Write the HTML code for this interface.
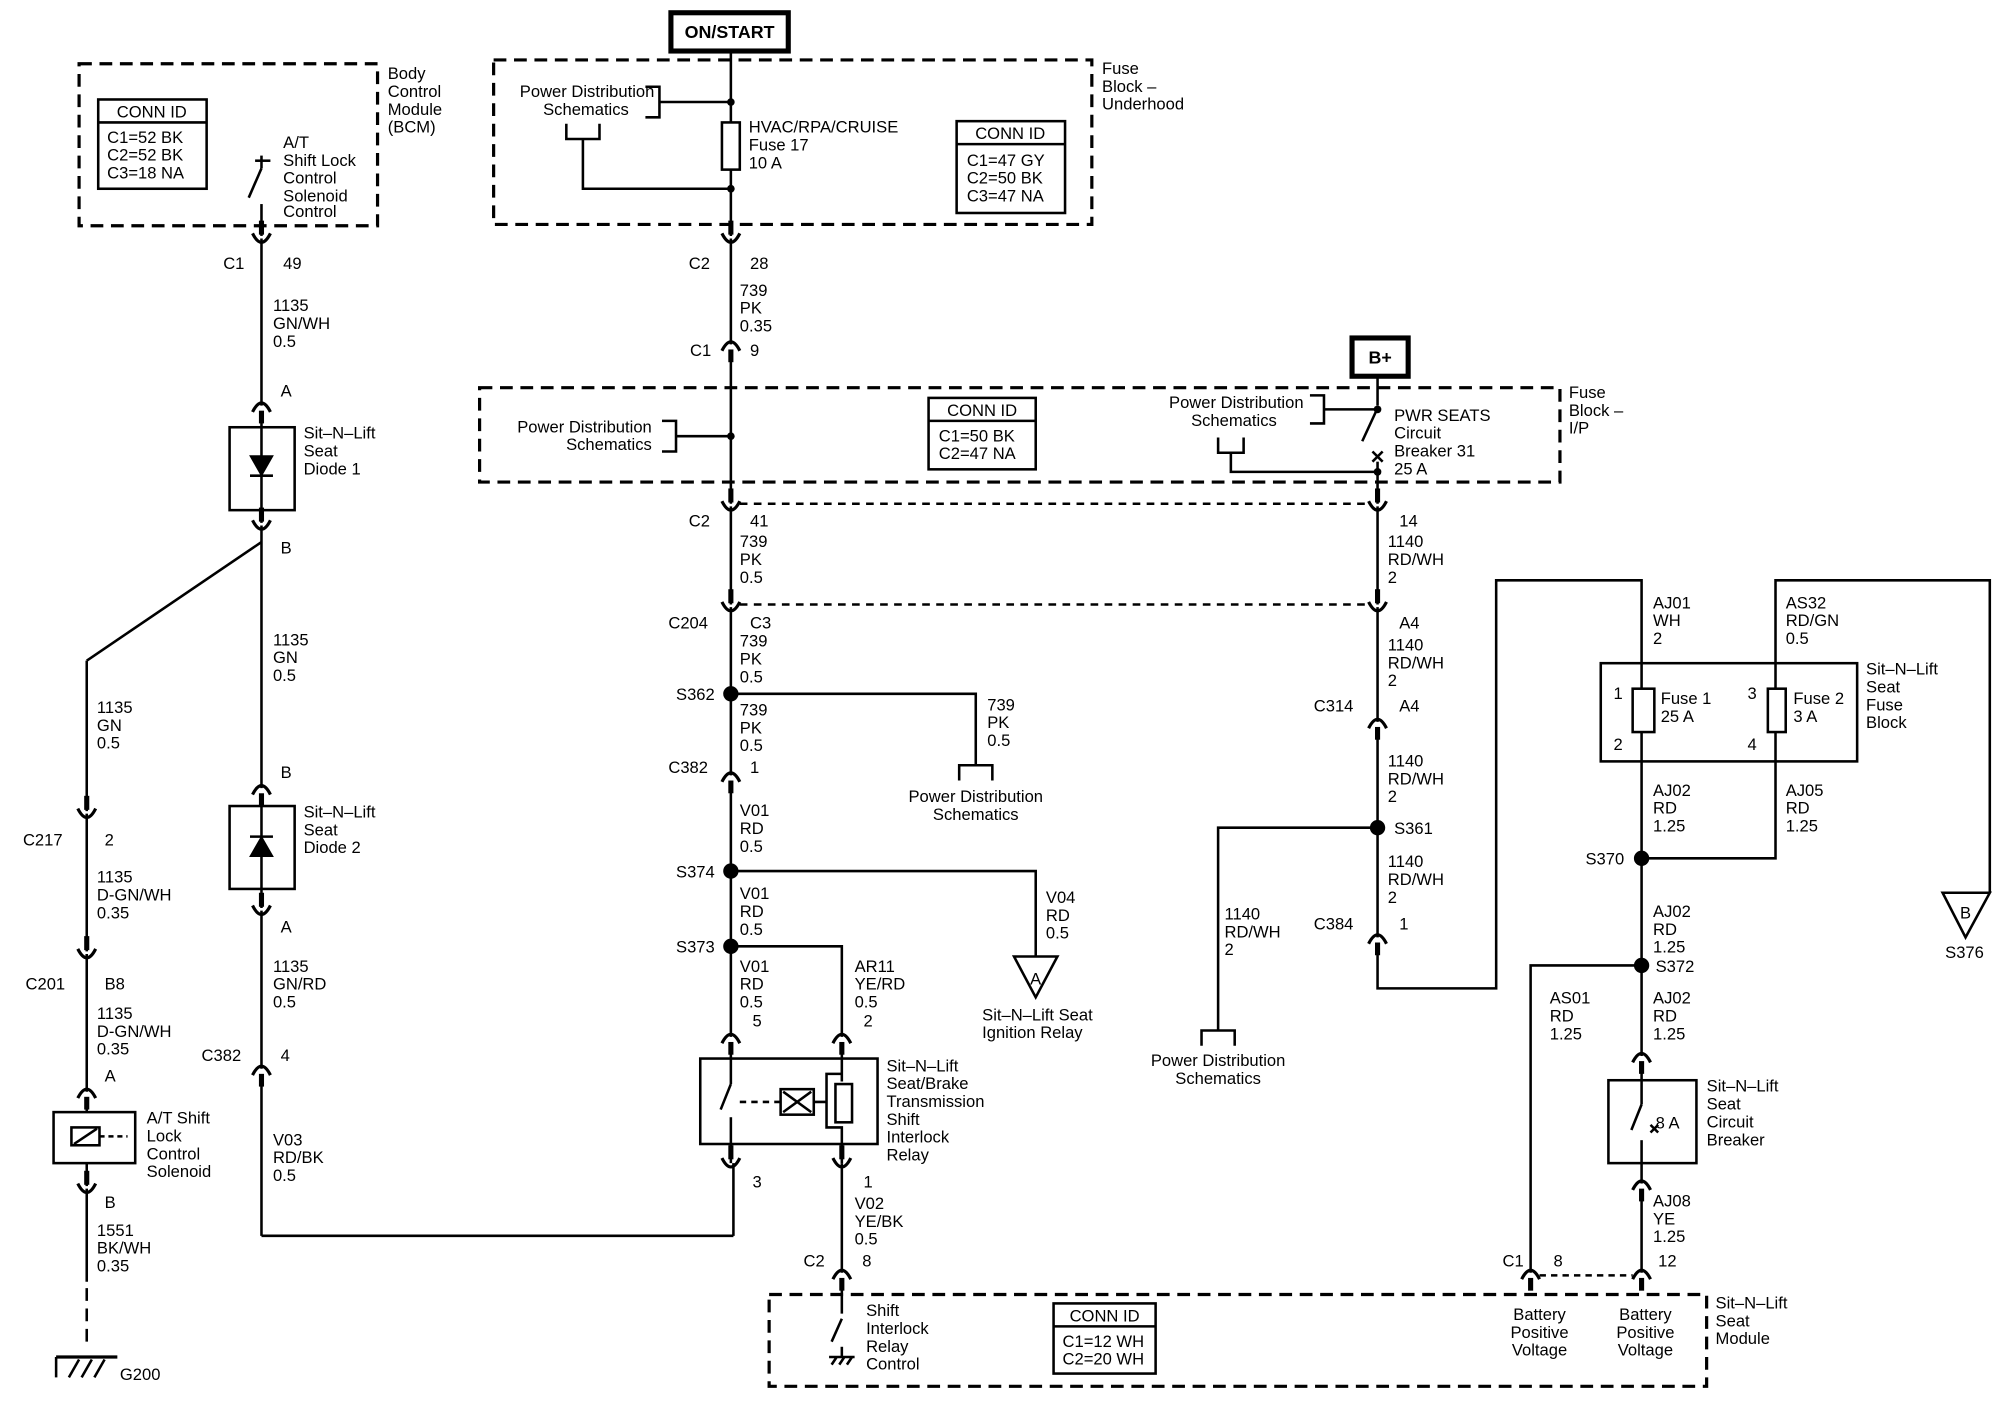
<!DOCTYPE html>
<html><head><meta charset="utf-8"><style>
html,body{margin:0;padding:0;background:#fff}
svg{display:block}
text{font-family:"Liberation Sans",Arial,sans-serif;font-size:13px;fill:#000}
</style></head><body>
<svg width="2000" height="1408" viewBox="0 0 1568 1104" preserveAspectRatio="none" xmlns="http://www.w3.org/2000/svg">
<defs>
<g id="cu"><path d="M-7,5 Q0,-9 7,5" fill="none" stroke="#000" stroke-width="2.5"/><line x1="0" y1="4" x2="0" y2="14" stroke="#000" stroke-width="4"/></g>
<g id="cd"><path d="M-7,-4 Q0,10 7,-4" fill="none" stroke="#000" stroke-width="2.5"/><line x1="0" y1="-14" x2="0" y2="-3" stroke="#000" stroke-width="4"/></g>
</defs>
<g fill="none" stroke="#000" stroke-width="2">
<!-- BCM -->
<rect x="62" y="50" width="234" height="127" stroke-dasharray="10,6" stroke-width="2.5"/>
<rect x="77" y="78" width="85" height="70"/><line x1="77" y1="96" x2="162" y2="96"/>
<line x1="205" y1="122" x2="205" y2="132"/><line x1="200" y1="126" x2="212" y2="126"/>
<line x1="205" y1="132" x2="195" y2="155"/><line x1="205" y1="160" x2="205" y2="185"/>
<!-- left col -->
<line x1="205" y1="187" x2="205" y2="318"/>
<rect x="180" y="335" width="51" height="65"/>
<line x1="205" y1="328" x2="205" y2="410"/>
<path d="M197,358 L213,358 L205,372 Z" fill="#000"/><line x1="196" y1="373" x2="214" y2="373"/>
<line x1="205" y1="412" x2="205" y2="618"/>
<line x1="205" y1="425" x2="68" y2="518"/><line x1="68" y1="518" x2="68" y2="636"/>
<line x1="68" y1="638" x2="68" y2="746"/>
<line x1="68" y1="748" x2="68" y2="856"/>
<rect x="42" y="872" width="64" height="40"/>
<rect x="56" y="884" width="22" height="14"/><line x1="58" y1="897" x2="76" y2="885"/>
<line x1="78" y1="891" x2="100" y2="891" stroke-dasharray="4,3"/>
<line x1="68" y1="866" x2="68" y2="872"/><line x1="68" y1="912" x2="68" y2="930"/>
<line x1="68" y1="932" x2="68" y2="1005"/>
<line x1="68" y1="1010" x2="68" y2="1055" stroke-dasharray="10,6"/>
<line x1="44" y1="1064" x2="92" y2="1064" stroke-width="2.5"/><line x1="44" y1="1064" x2="44" y2="1080"/>
<line x1="54" y1="1080" x2="62" y2="1066"/><line x1="64" y1="1080" x2="72" y2="1066"/><line x1="74" y1="1080" x2="82" y2="1066"/>
<rect x="180" y="632" width="51" height="65"/>
<line x1="205" y1="628" x2="205" y2="712"/>
<path d="M197,671 L213,671 L205,657 Z" fill="#000"/><line x1="196" y1="656" x2="214" y2="656"/>
<line x1="205" y1="714" x2="205" y2="838"/>
<line x1="205" y1="850" x2="205" y2="969"/><line x1="205" y1="969" x2="575" y2="969"/><line x1="575" y1="969" x2="575" y2="912"/>
<!-- ON/START -->
<rect x="526" y="10" width="92" height="30" stroke-width="4"/>
<line x1="573" y1="40" x2="573" y2="185"/>
<rect x="387" y="47" width="469" height="129" stroke-dasharray="10,6" stroke-width="2.5"/>
<path d="M506,68 L517,68 L517,92 L506,92 M517,80 L573,80"/>
<path d="M444,97 L444,109 L470,109 L470,97 M457,109 L457,148 L573,148"/>
<rect x="566" y="96" width="14" height="37" fill="#fff"/>
<rect x="750" y="95" width="85" height="72"/><line x1="750" y1="113" x2="835" y2="113"/>
<line x1="573" y1="187" x2="573" y2="270"/>
<line x1="573" y1="280" x2="573" y2="395"/>
<rect x="376" y="304" width="847" height="74" stroke-dasharray="10,6" stroke-width="2.5"/>
<path d="M519,330 L530,330 L530,354 L519,354 M530,342 L573,342"/>
<rect x="728" y="312" width="84" height="56"/><line x1="728" y1="330" x2="812" y2="330"/>
<rect x="1060" y="265" width="44" height="30" stroke-width="4"/>
<line x1="1080" y1="295" x2="1080" y2="318"/><line x1="1080" y1="320" x2="1068" y2="346"/>
<path d="M1027,310 L1038,310 L1038,332 L1027,332 M1038,321 L1080,321"/>
<path d="M955,343 L955,355 L975,355 L975,343 M965,355 L965,370 L1080,370"/>
<path d="M1076,354 L1084,362 M1084,354 L1076,362"/>
<line x1="1080" y1="362" x2="1080" y2="395"/>
<line x1="580" y1="395" x2="1073" y2="395" stroke-dasharray="6,5"/>
<line x1="573" y1="397" x2="573" y2="474"/>
<line x1="580" y1="474" x2="1073" y2="474" stroke-dasharray="6,5"/>
<line x1="573" y1="476" x2="573" y2="608"/>
<path d="M573,544 L765,544 L765,600 M752,612 L752,600 L778,600 L778,612"/>
<line x1="573" y1="618" x2="573" y2="813"/>
<path d="M573,683 L812,683 L812,750"/>
<path d="M795,750 L829,750 L812,782 Z"/>
<path d="M573,742 L660,742 L660,813"/>
<rect x="549" y="830" width="139" height="67"/>
<line x1="573" y1="823" x2="573" y2="850"/><line x1="573" y1="850" x2="565" y2="870"/><line x1="573" y1="876" x2="573" y2="912"/>
<line x1="580" y1="864" x2="612" y2="864" stroke-dasharray="5,4"/>
<rect x="612" y="854" width="26" height="20"/><path d="M614,856 L636,872 M636,856 L614,872"/>
<path d="M660,823 L660,848 M638,864 L648,864 L648,842 L660,842 M648,864 L648,884 L660,884 L660,912"/>
<rect x="655" y="850" width="13" height="30" fill="#fff"/>
<line x1="660" y1="912" x2="660" y2="998"/>
<rect x="603" y="1015" width="735" height="72" stroke-dasharray="10,6" stroke-width="2.5"/>
<line x1="660" y1="1008" x2="660" y2="1030"/><line x1="660" y1="1034" x2="652" y2="1052"/><line x1="660" y1="1056" x2="660" y2="1064"/>
<path d="M650,1064 L670,1064 M652,1070 L656,1064 M658,1070 L662,1064 M664,1070 L668,1064"/>
<rect x="826" y="1022" width="80" height="55"/><line x1="826" y1="1040" x2="906" y2="1040"/>
<!-- right -->
<line x1="1080" y1="397" x2="1080" y2="474"/>
<line x1="1080" y1="476" x2="1080" y2="566"/>
<line x1="1080" y1="576" x2="1080" y2="735"/>
<path d="M1080,649 L955,649 L955,808 M942,820 L942,808 L968,808 L968,820"/>
<path d="M1080,745 L1080,775 L1173,775 L1173,455 L1287,455 L1287,540"/>
<rect x="1255" y="520" width="201" height="77"/>
<rect x="1280" y="540" width="17" height="34" fill="#fff"/><line x1="1287" y1="574" x2="1287" y2="828"/>
<path d="M1560,700 L1560,455 L1392,455 L1392,540"/>
<rect x="1386" y="540" width="14" height="34" fill="#fff"/>
<path d="M1392,574 L1392,673 L1287,673"/>
<path d="M1523,700 L1560,700 L1541,735 Z"/>
<path d="M1287,757 L1200,757 L1200,998"/>
<rect x="1261" y="847" width="69" height="65"/>
<line x1="1287" y1="838" x2="1287" y2="866"/><line x1="1287" y1="866" x2="1279" y2="886"/>
<path d="M1294,882 L1300,888 M1300,882 L1294,888"/>
<line x1="1287" y1="894" x2="1287" y2="928"/>
<line x1="1287" y1="938" x2="1287" y2="998"/>
<line x1="1207" y1="1000" x2="1280" y2="1000" stroke-dasharray="5,4"/>
</g>
<g fill="#000">
<circle cx="573" cy="80" r="3"/><circle cx="573" cy="148" r="3"/><circle cx="573" cy="342" r="3"/><circle cx="1080" cy="370" r="3"/><circle cx="1080" cy="321" r="3"/>
<circle cx="573" cy="544" r="6"/><circle cx="573" cy="683" r="6"/><circle cx="573" cy="742" r="6"/>
<circle cx="1080" cy="649" r="6"/><circle cx="1287" cy="673" r="6"/><circle cx="1287" cy="757" r="6"/>
</g>
<use href="#cd" x="205" y="187"/><use href="#cu" x="205" y="318"/><use href="#cd" x="205" y="412"/>
<use href="#cd" x="68" y="638"/><use href="#cd" x="68" y="748"/><use href="#cu" x="68" y="856"/><use href="#cd" x="68" y="932"/>
<use href="#cu" x="205" y="618"/><use href="#cd" x="205" y="714"/><use href="#cu" x="205" y="838"/>
<use href="#cd" x="573" y="187"/><use href="#cu" x="573" y="270"/><use href="#cd" x="573" y="397"/><use href="#cd" x="573" y="476"/><use href="#cu" x="573" y="608"/>
<use href="#cu" x="573" y="813"/><use href="#cu" x="660" y="813"/><use href="#cd" x="573" y="912"/><use href="#cd" x="660" y="912"/><use href="#cu" x="660" y="998"/>
<use href="#cd" x="1080" y="397"/><use href="#cd" x="1080" y="476"/><use href="#cu" x="1080" y="566"/><use href="#cu" x="1080" y="735"/>
<use href="#cu" x="1287" y="828"/><use href="#cu" x="1287" y="928"/><use href="#cu" x="1200" y="998"/><use href="#cu" x="1287" y="998"/>
<g>
<text x="304" y="62">Body</text><text x="304" y="76">Control</text><text x="304" y="90">Module</text><text x="304" y="104">(BCM)</text>
<text x="119" y="92" text-anchor="middle">CONN ID</text><text x="84" y="112">C1=52 BK</text><text x="84" y="126">C2=52 BK</text><text x="84" y="140">C3=18 NA</text>
<text x="222" y="116">A/T</text><text x="222" y="130">Shift Lock</text><text x="222" y="144">Control</text><text x="222" y="158">Solenoid</text><text x="222" y="170">Control</text>
<text x="175" y="211">C1</text><text x="222" y="211">49</text>
<text x="214" y="244">1135</text><text x="214" y="258">GN/WH</text><text x="214" y="272">0.5</text>
<text x="220" y="311">A</text>
<text x="238" y="344">Sit–N–Lift</text><text x="238" y="358">Seat</text><text x="238" y="372">Diode 1</text>
<text x="220" y="434">B</text>
<text x="214" y="506">1135</text><text x="214" y="520">GN</text><text x="214" y="534">0.5</text>
<text x="76" y="559">1135</text><text x="76" y="573">GN</text><text x="76" y="587">0.5</text>
<text x="220" y="610">B</text>
<text x="238" y="641">Sit–N–Lift</text><text x="238" y="655">Seat</text><text x="238" y="669">Diode 2</text>
<text x="18" y="663">C217</text><text x="82" y="663">2</text>
<text x="76" y="692">1135</text><text x="76" y="706">D-GN/WH</text><text x="76" y="720">0.35</text>
<text x="220" y="731">A</text>
<text x="214" y="762">1135</text><text x="214" y="776">GN/RD</text><text x="214" y="790">0.5</text>
<text x="20" y="776">C201</text><text x="82" y="776">B8</text>
<text x="76" y="799">1135</text><text x="76" y="813">D-GN/WH</text><text x="76" y="827">0.35</text>
<text x="158" y="832">C382</text><text x="220" y="832">4</text>
<text x="82" y="848">A</text>
<text x="115" y="881">A/T Shift</text><text x="115" y="895">Lock</text><text x="115" y="909">Control</text><text x="115" y="923">Solenoid</text>
<text x="214" y="898">V03</text><text x="214" y="912">RD/BK</text><text x="214" y="926">0.5</text>
<text x="82" y="947">B</text>
<text x="76" y="969">1551</text><text x="76" y="983">BK/WH</text><text x="76" y="997">0.35</text>
<text x="94" y="1082">G200</text>
<text x="572" y="30" text-anchor="middle" font-weight="bold" style="font-size:14px">ON/START</text>
<text x="864" y="58">Fuse</text><text x="864" y="72">Block –</text><text x="864" y="86">Underhood</text>
<text x="513" y="76" text-anchor="end">Power Distribution</text><text x="493" y="90" text-anchor="end">Schematics</text>
<text x="587" y="104">HVAC/RPA/CRUISE</text><text x="587" y="118">Fuse 17</text><text x="587" y="132">10 A</text>
<text x="792" y="109" text-anchor="middle">CONN ID</text><text x="758" y="130">C1=47 GY</text><text x="758" y="144">C2=50 BK</text><text x="758" y="158">C3=47 NA</text>
<text x="540" y="211">C2</text><text x="588" y="211">28</text>
<text x="580" y="232">739</text><text x="580" y="246">PK</text><text x="580" y="260">0.35</text>
<text x="541" y="279">C1</text><text x="588" y="279">9</text>
<text x="1082" y="285" text-anchor="middle" font-weight="bold" style="font-size:14px">B+</text>
<text x="1230" y="312">Fuse</text><text x="1230" y="326">Block –</text><text x="1230" y="340">I/P</text>
<text x="511" y="339" text-anchor="end">Power Distribution</text><text x="511" y="353" text-anchor="end">Schematics</text>
<text x="770" y="326" text-anchor="middle">CONN ID</text><text x="736" y="346">C1=50 BK</text><text x="736" y="360">C2=47 NA</text>
<text x="1022" y="320" text-anchor="end">Power Distribution</text><text x="1001" y="334" text-anchor="end">Schematics</text>
<text x="1093" y="330">PWR SEATS</text><text x="1093" y="344">Circuit</text><text x="1093" y="358">Breaker 31</text><text x="1093" y="372">25 A</text>
<text x="540" y="413">C2</text><text x="588" y="413">41</text>
<text x="580" y="429">739</text><text x="580" y="443">PK</text><text x="580" y="457">0.5</text>
<text x="1097" y="413">14</text><text x="1088" y="429">1140</text><text x="1088" y="443">RD/WH</text><text x="1088" y="457">2</text>
<text x="524" y="493">C204</text><text x="588" y="493">C3</text>
<text x="580" y="507">739</text><text x="580" y="521">PK</text><text x="580" y="535">0.5</text>
<text x="1097" y="493">A4</text><text x="1088" y="510">1140</text><text x="1088" y="524">RD/WH</text><text x="1088" y="538">2</text>
<text x="530" y="549">S362</text>
<text x="580" y="561">739</text><text x="580" y="575">PK</text><text x="580" y="589">0.5</text>
<text x="774" y="557">739</text><text x="774" y="571">PK</text><text x="774" y="585">0.5</text>
<text x="1030" y="558">C314</text><text x="1097" y="558">A4</text>
<text x="524" y="606">C382</text><text x="588" y="606">1</text>
<text x="1088" y="601">1140</text><text x="1088" y="615">RD/WH</text><text x="1088" y="629">2</text>
<text x="765" y="629" text-anchor="middle">Power Distribution</text><text x="765" y="643" text-anchor="middle">Schematics</text>
<text x="580" y="640">V01</text><text x="580" y="654">RD</text><text x="580" y="668">0.5</text>
<text x="1093" y="654">S361</text>
<text x="530" y="688">S374</text>
<text x="1088" y="680">1140</text><text x="1088" y="694">RD/WH</text><text x="1088" y="708">2</text>
<text x="580" y="705">V01</text><text x="580" y="719">RD</text><text x="580" y="733">0.5</text>
<text x="820" y="708">V04</text><text x="820" y="722">RD</text><text x="820" y="736">0.5</text>
<text x="960" y="721">1140</text><text x="960" y="735">RD/WH</text><text x="960" y="749">2</text>
<text x="1030" y="729">C384</text><text x="1097" y="729">1</text>
<text x="530" y="747">S373</text>
<text x="812" y="772" text-anchor="middle">A</text>
<text x="580" y="762">V01</text><text x="580" y="776">RD</text><text x="580" y="790">0.5</text><text x="590" y="805">5</text>
<text x="670" y="762">AR11</text><text x="670" y="776">YE/RD</text><text x="670" y="790">0.5</text><text x="677" y="805">2</text>
<text x="770" y="800">Sit–N–Lift Seat</text><text x="770" y="814">Ignition Relay</text>
<text x="955" y="836" text-anchor="middle">Power Distribution</text><text x="955" y="850" text-anchor="middle">Schematics</text>
<text x="695" y="840">Sit–N–Lift</text><text x="695" y="854">Seat/Brake</text><text x="695" y="868">Transmission</text><text x="695" y="882">Shift</text><text x="695" y="896">Interlock</text><text x="695" y="910">Relay</text>
<text x="590" y="931">3</text><text x="677" y="931">1</text>
<text x="670" y="948">V02</text><text x="670" y="962">YE/BK</text><text x="670" y="976">0.5</text>
<text x="630" y="993">C2</text><text x="676" y="993">8</text>
<text x="679" y="1032">Shift</text><text x="679" y="1046">Interlock</text><text x="679" y="1060">Relay</text><text x="679" y="1074">Control</text>
<text x="866" y="1036" text-anchor="middle">CONN ID</text><text x="833" y="1056">C1=12 WH</text><text x="833" y="1070">C2=20 WH</text>
<text x="1207" y="1035" text-anchor="middle">Battery</text><text x="1207" y="1049" text-anchor="middle">Positive</text><text x="1207" y="1063" text-anchor="middle">Voltage</text>
<text x="1290" y="1035" text-anchor="middle">Battery</text><text x="1290" y="1049" text-anchor="middle">Positive</text><text x="1290" y="1063" text-anchor="middle">Voltage</text>
<text x="1345" y="1026">Sit–N–Lift</text><text x="1345" y="1040">Seat</text><text x="1345" y="1054">Module</text>
<text x="1296" y="477">AJ01</text><text x="1296" y="491">WH</text><text x="1296" y="505">2</text>
<text x="1400" y="477">AS32</text><text x="1400" y="491">RD/GN</text><text x="1400" y="505">0.5</text>
<text x="1463" y="529">Sit–N–Lift</text><text x="1463" y="543">Seat</text><text x="1463" y="557">Fuse</text><text x="1463" y="571">Block</text>
<text x="1265" y="548">1</text><text x="1265" y="588">2</text><text x="1370" y="548">3</text><text x="1370" y="588">4</text>
<text x="1302" y="552">Fuse 1</text><text x="1302" y="566">25 A</text><text x="1406" y="552">Fuse 2</text><text x="1406" y="566">3 A</text>
<text x="1296" y="624">AJ02</text><text x="1296" y="638">RD</text><text x="1296" y="652">1.25</text>
<text x="1400" y="624">AJ05</text><text x="1400" y="638">RD</text><text x="1400" y="652">1.25</text>
<text x="1243" y="678">S370</text>
<text x="1296" y="719">AJ02</text><text x="1296" y="733">RD</text><text x="1296" y="747">1.25</text>
<text x="1541" y="720" text-anchor="middle">B</text><text x="1525" y="751">S376</text>
<text x="1298" y="762">S372</text>
<text x="1215" y="787">AS01</text><text x="1215" y="801">RD</text><text x="1215" y="815">1.25</text>
<text x="1296" y="787">AJ02</text><text x="1296" y="801">RD</text><text x="1296" y="815">1.25</text>
<text x="1338" y="856">Sit–N–Lift</text><text x="1338" y="870">Seat</text><text x="1338" y="884">Circuit</text><text x="1338" y="898">Breaker</text>
<text x="1298" y="885">8 A</text>
<text x="1296" y="946">AJ08</text><text x="1296" y="960">YE</text><text x="1296" y="974">1.25</text>
<text x="1178" y="993">C1</text><text x="1218" y="993">8</text><text x="1300" y="993">12</text>
</g>
</svg>
</body></html>
